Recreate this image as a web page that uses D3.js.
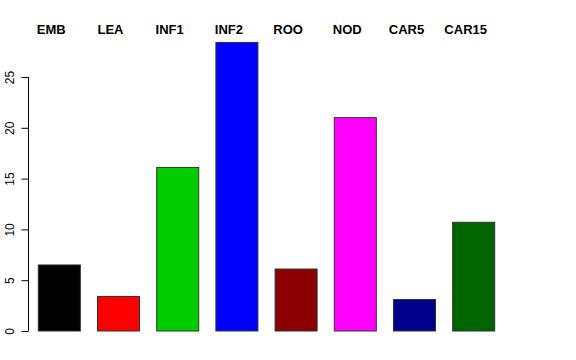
<!DOCTYPE html>
<html>
<head>
<meta charset="utf-8">
<script src="https://cdn.jsdelivr.net/npm/d3@7"></script>
<style>
  body { margin: 0; background: #fff; }
  svg { font-family: 'Liberation Sans', Arial, Helvetica, sans-serif; }
</style>
</head>
<body>
<svg id="chart" width="576" height="360"></svg>
<script>
// bar categories, heights and fill colours
const categories = ['EMB', 'LEA', 'INF1', 'INF2', 'ROO', 'NOD', 'CAR5', 'CAR15'];
const counts = [6.5, 3.4, 16.1, 28.4, 6.1, 21.0, 3.1, 10.7];
const barColors = ['#000000', '#ff0000', '#00cd00', '#0000ff', '#8b0000', '#ff00ff', '#00008b', '#006400'];
const yTicks = [0, 5, 10, 15, 20, 25];

const data = categories.map((c, i) => ({ name: c, value: counts[i], color: barColors[i] }));

const svg = d3.select('svg#chart');

// x band scale - bars are ~42px wide on a ~59px step
const xScale = d3.scaleBand()
  .domain(categories)
  .range([38.3, 494.7])
  .paddingInner(0.29)
  .paddingOuter(0);

// y linear scale, 0 sits at y=331
const yScale = d3.scaleLinear()
  .domain([0, 25])
  .range([331, 77]);

// y axis (R style: line only spans the tick range, labels rotated)
const yAxisGen = d3.axisLeft(yScale)
  .tickValues(yTicks)
  .tickSize(7)
  .tickSizeOuter(0);

const yAxis = svg.append('g')
  .attr('transform', 'translate(28.5,0)')
  .call(yAxisGen);

yAxis.select('.domain')
  .attr('d', `M0,${yScale(0)}V${yScale(25)}`)
  .attr('stroke', '#000');

yAxis.selectAll('.tick line').attr('stroke', '#000');

// after rotate(-90) the local x runs up the page, y runs left
yAxis.selectAll('.tick text')
  .attr('font-size', '12px')
  .attr('fill', '#000')
  .attr('text-anchor', 'middle')
  .attr('transform', 'rotate(-90)')
  .attr('x', 0)
  .attr('y', -14.5)
  .attr('dy', '0');

// bars
svg.append('g')
  .selectAll('rect')
  .data(data)
  .enter()
  .append('rect')
  .attr('x', (d) => xScale(d.name))
  .attr('y', (d) => yScale(d.value))
  .attr('width', xScale.bandwidth())
  .attr('height', (d) => yScale(0) - yScale(d.value))
  .attr('fill', (d) => d.color)
  .attr('stroke', '#333')
  .attr('stroke-width', 1);

// category labels along the top
svg.append('g')
  .selectAll('text')
  .data(data)
  .enter()
  .append('text')
  .text((d) => d.name)
  .attr('x', (d) => xScale(d.name) + xScale.bandwidth() / 2 - 8)
  .attr('y', 34)
  .attr('text-anchor', 'middle')
  .attr('font-size', '13px')
  .attr('font-weight', 'bold')
  .attr('fill', '#000');
</script>
</body>
</html>
